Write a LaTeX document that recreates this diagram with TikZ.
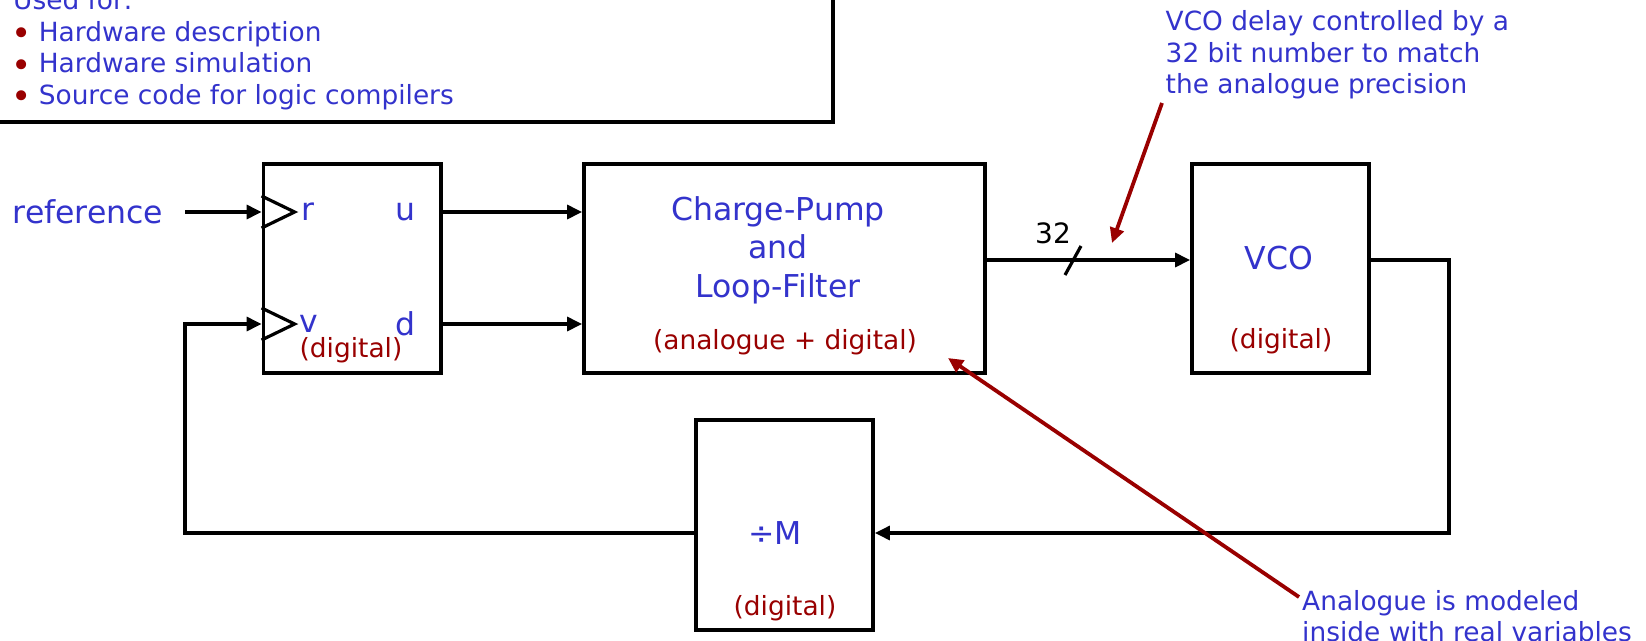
\documentclass[tikz,border=0pt]{standalone}
\usepackage{fontspec}
\setmainfont{DejaVu Sans}
\usetikzlibrary{arrows.meta,calc}
\definecolor{tblue}{RGB}{51,51,204}
\definecolor{tred}{RGB}{153,0,0}
\newcommand{\rbul}{\textcolor{tred}{\raisebox{-4.5pt}[0pt][0pt]{\scalebox{1.3}{•}}}\hspace{-1pt}}
\begin{document}
\begin{tikzpicture}[x=1pt,y=-1pt,
  blk/.style={draw, line width=3.8pt, inner sep=0, fill=white},
  lbl/.style={text=tblue, font=\fontsize{31.5}{38.5}\selectfont, inner sep=0, align=center},
  sub/.style={text=tred, font=\fontsize{26.4}{31.5}\selectfont, inner sep=0},
  note/.style={text=tblue, font=\fontsize{26.4}{31.5}\selectfont, inner sep=0, align=left},
  wire/.style={line width=3.2pt},
  arr/.style={wire, -{Triangle[length=15pt,width=14pt]}},
  redarr/.style={draw=tred, line width=3.8pt, -{Triangle[length=15pt,width=14pt]}}]
\useasboundingbox (0,0) rectangle (1646,640);
\clip (0,0) rectangle (1646,640);
% top-left box
\draw[wire] (-10,-10) rectangle (833,122);
\node[note, anchor=base west] (uf) at (13,9.5) {Used for:};
\node[note, anchor=base west] (b1) at (11,41) {\rbul{} Hardware description};
\node[note, anchor=base west] (b2) at (11,72.5) {\rbul{} Hardware simulation};
\node[note, anchor=base west] (b3) at (11,104) {\rbul{} Source code for logic compilers};
% blocks
\node[blk, minimum width=177.5, minimum height=209] (pfd) at (352.25,268.5) {};
\node[blk, minimum width=401, minimum height=209] (cp) at (784.5,268.5) {};
\node[blk, minimum width=177, minimum height=209] (vco) at (1280.5,268.5) {};
\node[blk, minimum width=177, minimum height=210] (div) at (784.5,525) {};
% helper coordinates
\coordinate (ry) at (0,212);
\coordinate (vy) at (0,324);
\coordinate (cy) at (0,260);
\coordinate (fy) at (0,533);
\coordinate (refend) at (185,212);
\coordinate (fbl) at (185,533);
\coordinate (vcor) at (1449,260);
% PFD internals
\draw[wire] ($(ry -| pfd.west)+(0,-16)$) -- ($(ry -| pfd.west)+(33,0)$) -- ($(ry -| pfd.west)+(0,16)$);
\draw[wire] ($(vy -| pfd.west)+(0,-16)$) -- ($(vy -| pfd.west)+(33,0)$) -- ($(vy -| pfd.west)+(0,16)$);
\node[lbl] (rl) at (308,212) {r};
\node[lbl] (ul) at (405,212) {u};
\node[lbl] (vl) at (309,324) {v};
\node[lbl] (dl) at (405,324) {d};
\node[sub] (pfdd) at (351,350) {(digital)};
% labels
\node[lbl, anchor=west] (ref) at (12.6,212) {reference};
\node[lbl] (cpl) at (778,250) {Charge-Pump\\and\\Loop-Filter};
\node[sub] (cpd) at (785,342) {(analogue + digital)};
\node[lbl] (vcol) at (1279,258) {VCO};
\node[sub] (vcod) at (1281,341) {(digital)};
\node[lbl] (divl) at (775,533) {÷M};
\node[sub] (divd) at (785,608) {(digital)};
% connectors
\draw[arr] (refend) -- (ry -| pfd.west);
\draw[arr] (ry -| pfd.east) -- (ry -| cp.west);
\draw[arr] (vy -| pfd.east) -- (vy -| cp.west);
\draw[arr] (cy -| cp.east) -- (cy -| vco.west);
\draw[wire] (1065,275) -- (1081,246);
\node[font=\fontsize{28}{34}\selectfont, inner sep=0] (n32) at (1053,233) {32};
\draw[arr] (cy -| vco.east) -- (vcor) |- (fy -| div.east);
\draw[arr] (fy -| div.west) -- (fbl) |- (vy -| pfd.west);
% annotations
\node[note, anchor=west] (noteA) at (1165.5,55) {VCO delay controlled by a\\32 bit number to match\\the analogue precision};
\node[note, anchor=west] (noteB) at (1302,616) {Analogue is modeled\\inside with real variables};
\coordinate (tipA) at (1112,243);
\coordinate (tipB) at (948,358);
\draw[redarr] (1162,103) -- (tipA);
\draw[redarr] (1299,597) -- (tipB);
\end{tikzpicture}
\end{document}
